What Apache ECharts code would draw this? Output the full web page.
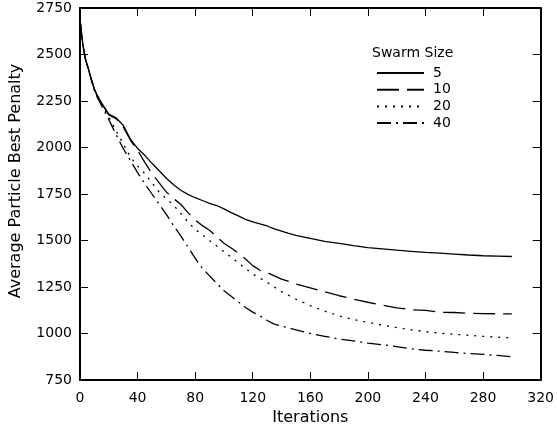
<!DOCTYPE html>
<html>
<head>
<meta charset="utf-8">
<script src="https://cdn.jsdelivr.net/npm/echarts@6/dist/echarts.min.js"></script>
<style>html,body{margin:0;padding:0;background:#fff}#c{width:557px;height:431px}</style>
</head>
<body>
<div id="c"></div>
<script>
const iterations = [0,1,2,3,4,6,8,10,12,15,20,25,30,35,40,45,50,55,60,65,70,75,80,85,90,95,100,105,110,115,120,125,130,135,140,145,150,160,170,180,190,200,210,220,230,240,250,260,270,280,290,300];
const swarm5  = [2690,2620,2555,2510,2470,2420,2365,2315,2280,2240,2180,2160,2120,2045,1995,1958,1915,1875,1835,1800,1770,1748,1730,1715,1700,1688,1670,1650,1632,1614,1600,1590,1578,1562,1550,1538,1528,1512,1495,1485,1473,1462,1455,1448,1442,1436,1432,1427,1422,1418,1416,1414];
const swarm10 = [2690,2618,2553,2508,2468,2418,2363,2312,2277,2238,2175,2155,2110,2040,1985,1920,1860,1810,1760,1725,1695,1650,1610,1580,1555,1520,1485,1460,1432,1400,1365,1340,1328,1310,1292,1280,1266,1245,1224,1203,1185,1168,1152,1138,1128,1124,1114,1113,1109,1107,1106,1105];
const swarm20 = [2690,2615,2550,2505,2465,2415,2360,2310,2272,2230,2165,2090,2020,1950,1900,1860,1810,1760,1725,1690,1645,1600,1560,1530,1500,1470,1440,1410,1380,1350,1320,1298,1275,1250,1225,1205,1185,1150,1120,1095,1075,1060,1045,1032,1020,1010,1002,996,990,985,980,977];
const swarm40 = [2690,2615,2550,2505,2465,2415,2360,2308,2270,2225,2150,2070,1995,1930,1865,1805,1750,1695,1640,1580,1525,1465,1405,1350,1310,1270,1230,1200,1170,1140,1115,1095,1070,1050,1040,1030,1020,1000,985,970,960,948,940,930,918,910,905,898,892,888,882,875];
const seriesNames = ['5','10','20','40'];
const xTicks = {min:0, max:320, step:40};
const yTicks = {min:750, max:2750, step:250};

const FONT = 'DejaVu Sans';
const pairs = arr => iterations.map((x,i)=>[x,arr[i]]);
const dashes = ['solid',[22,8],[2,6],[14,5,2,5]];
const values = [swarm5,swarm10,swarm20,swarm40];

const chart = echarts.init(document.getElementById('c'), null, {renderer:'canvas'});
const axisCommon = {
  axisLine:{show:true,onZero:false,lineStyle:{color:'#000',width:2}},
  axisTick:{show:true,inside:true,length:8,lineStyle:{color:'#000',width:1}},
  splitLine:{show:false}
};
chart.setOption({
  animation:false,
  title:{text:'Swarm Size',left:367,top:41,textStyle:{fontFamily:FONT,fontSize:14,fontWeight:'normal',color:'#000'}},
  legend:{
    orient:'vertical',left:371,top:61,itemWidth:47,itemHeight:14,itemGap:2.7,
    data:seriesNames,
    itemStyle:{opacity:0,borderWidth:0},
    textStyle:{fontFamily:FONT,fontSize:14,lineHeight:14,color:'#000',padding:[0,0,0,4]}
  },
  grid:{left:79,right:14,top:8,bottom:50,show:false},
  xAxis:[
    Object.assign({type:'value',min:xTicks.min,max:xTicks.max,interval:xTicks.step,position:'bottom',
      name:'Iterations',nameLocation:'middle',nameGap:30,
      nameTextStyle:{fontFamily:FONT,fontSize:16,color:'#000'},
      axisLabel:{fontFamily:FONT,fontSize:14,color:'#000',margin:11}},axisCommon),
    Object.assign({type:'value',min:xTicks.min,max:xTicks.max,interval:xTicks.step,position:'top',
      axisLabel:{show:false}},axisCommon)
  ],
  yAxis:[
    Object.assign({type:'value',min:yTicks.min,max:yTicks.max,interval:yTicks.step,position:'left',
      name:'Average Particle Best Penalty',nameLocation:'middle',nameGap:56,
      nameTextStyle:{fontFamily:FONT,fontSize:16,color:'#000',padding:[0,0,0,26]},
      axisLabel:{fontFamily:FONT,fontSize:14,color:'#000',margin:8,formatter:v=>String(v)}},axisCommon),
    Object.assign({type:'value',min:yTicks.min,max:yTicks.max,interval:yTicks.step,position:'right',
      axisLabel:{show:false}},axisCommon)
  ],
  series: seriesNames.map((n,i)=>({
    name:n,type:'line',data:pairs(values[i]),symbol:'none',showSymbol:false,smooth:false,
    lineStyle:{color:'#000',width:1.3,type:dashes[i]},itemStyle:{color:'#000'}
  }))
});
</script>
</body>
</html>
